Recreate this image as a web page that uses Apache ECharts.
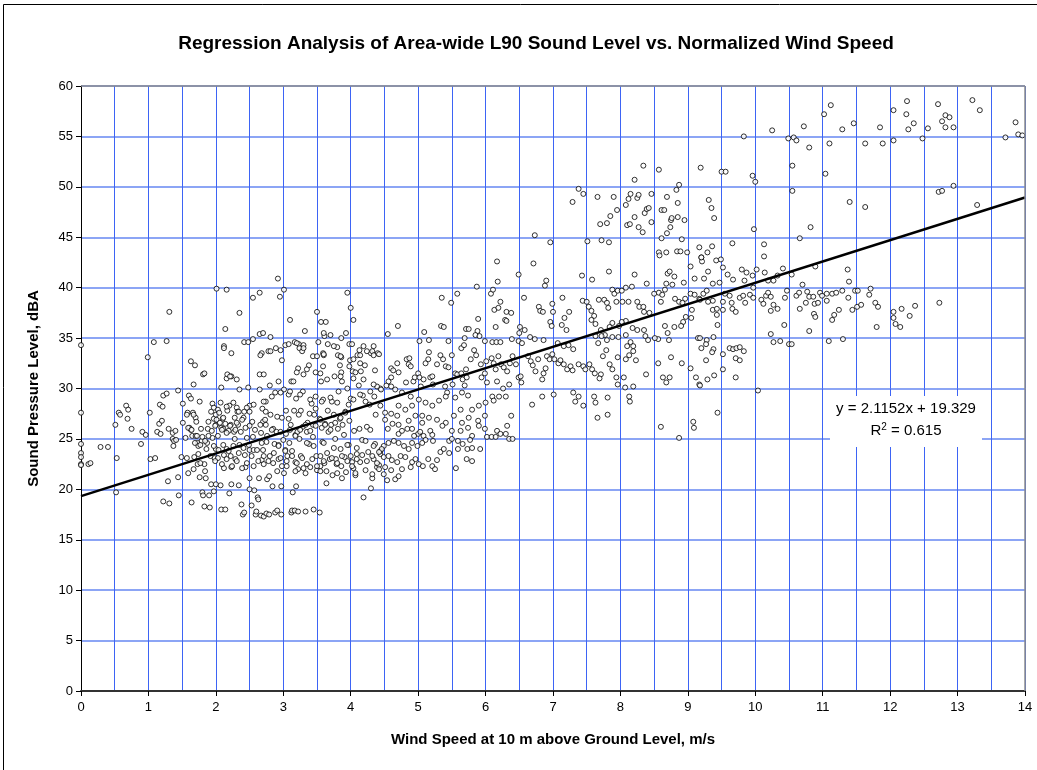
<!DOCTYPE html>
<html>
<head>
<meta charset="utf-8">
<script src="https://cdn.jsdelivr.net/npm/echarts@6/dist/echarts.min.js"></script>
<style>
html,body{margin:0;padding:0;background:#fff;}
#chart{width:1037px;height:770px;}
</style>
</head>
<body>
<div id="chart"></div>
<script>
// ---- data (wind speed m/s, sound level dBA) ----
const obsLowWindUpper = [[0,34.3],[0.99,33.1],[1.08,34.6],[1.27,34.7],[1.31,37.6],[1.63,32.7],[1.69,32.3],[1.81,31.4],[1.83,31.5],[2.01,39.9],[2.16,39.8],[2.14,35.9],[2.12,34.2],[2.12,34.0],[2.23,33.5],[2.35,37.5],[2.42,34.6],[2.48,34.6],[2.55,34.9],[2.55,39.0],[2.65,39.5],[2.65,35.4],[2.70,35.5],[2.81,35.1],[2.92,40.9],[2.95,39.1],[3.01,39.8],[3.10,36.8],[3.32,35.7],[2.68,33.5],[2.78,33.7],[2.89,34.0],[2.96,33.8],[2.98,32.8],[3.03,34.3],[3.08,34.4],[3.17,34.6],[3.23,34.4],[3.24,34.0],[3.28,33.7],[3.30,34.3],[3.22,32.0],[3.30,31.4],[3.20,31.6],[3.38,32.3],[3.44,33.2],[3.48,31.6],[3.50,37.6],[3.56,36.6],[3.63,36.6],[3.52,34.6],[3.59,33.5],[3.60,33.3],[3.59,32.2],[3.61,35.2],[3.60,35.5],[3.70,35.3],[3.66,34.4],[3.76,31.2],[3.80,34.1],[3.86,35.0],[3.81,33.3],[3.86,33.1],[3.84,32.3],[3.86,31.6],[3.93,35.5],[3.95,39.5],[4.00,38.0],[4.04,36.8],[3.98,34.4],[4.02,34.4],[3.99,32.8],[3.98,32.2],[4.03,31.7],[4.07,31.6],[4.10,33.3],[4.14,32.5],[4.13,33.8],[4.19,34.2],[4.21,32.3],[4.15,31.7],[4.30,33.5],[4.34,34.2],[4.32,33.7],[4.40,33.5],[4.36,31.8],[2.16,31.0],[2.17,31.4],[2.23,31.2],[2.65,31.4]];

const obsLowWindLower = [[0,27.6],[0,24.5],[0,23.6],[0,23.2],[0,22.5],[0,22.4],[0.11,22.5],[0.14,22.6],[0.29,24.2],[0.40,24.2],[0.51,26.4],[0.52,19.7],[0.53,23.1],[0.56,27.6],[0.58,27.4],[0.67,28.3],[0.70,27.9],[0.69,27.0],[0.75,26.0],[0.89,24.5],[0.91,25.7],[0.96,25.4],[1.02,27.6],[1.03,23.0],[1.10,23.1],[1.13,25.7],[1.17,28.4],[1.21,28.2],[1.18,25.5],[1.16,26.5],[1.20,26.8],[1.22,29.3],[1.27,29.5],[1.29,20.8],[1.22,18.8],[1.31,18.6],[1.30,26.0],[1.36,25.6],[1.36,25.0],[1.37,24.3],[1.38,24.8],[1.40,25.8],[1.41,24.9],[1.44,29.8],[1.44,21.2],[1.45,19.4],[1.51,28.5],[1.51,26.6],[1.49,23.2],[1.55,25.1],[1.58,27.6],[1.60,29.3],[1.63,29.0],[1.61,26.1],[1.63,25.9],[1.64,18.7],[1.59,21.6],[1.66,27.6],[1.67,30.4],[1.68,23.2],[1.65,25.3],[1.70,27.1],[1.71,26.7],[1.70,25.3],[1.73,24.6],[1.73,22.5],[1.74,24.3],[1.76,28.7],[1.74,23.5],[1.76,21.2],[1.79,24.8],[1.78,26.0],[1.80,25.2],[1.80,19.7],[1.81,19.4],[1.83,18.3],[1.83,22.5],[1.84,21.8],[1.86,24.0],[1.85,21.1],[1.87,24.6],[1.88,26.0],[1.89,26.7],[1.90,19.4],[1.91,18.2],[1.93,27.7],[1.95,28.5],[1.97,28.1],[1.95,25.1],[1.93,20.5],[1.97,19.8],[1.97,27.0],[1.98,23.1],[2.00,20.5],[2.00,24.0],[2.00,27.4],[2.00,26.4],[2.03,27.9],[2.03,25.3],[2.03,23.1],[2.05,27.6],[2.07,28.6],[2.08,30.1],[2.07,20.4],[2.08,26.1],[2.08,18.0],[2.10,27.0],[2.11,26.0],[2.12,23.4],[2.12,22.1],[2.14,18.0],[2.14,26.5],[2.16,24.0],[2.17,27.8],[2.20,28.3],[2.19,25.8],[2.20,19.6],[2.22,26.4],[2.22,23.3],[2.23,22.2],[2.23,20.5],[2.27,25.7],[2.28,27.1],[2.28,25.0],[2.29,23.0],[2.31,28.1],[2.32,27.7],[2.33,26.4],[2.34,20.4],[2.35,29.9],[2.35,24.4],[2.37,25.7],[2.38,18.5],[2.40,17.5],[2.42,17.7],[2.41,27.1],[2.42,27.7],[2.43,23.4],[2.44,22.2],[2.46,25.1],[2.48,30.1],[2.50,28.3],[2.50,27.7],[2.50,26.3],[2.50,23.9],[2.50,21.1],[2.50,20.0],[2.53,18.4],[2.54,26.7],[2.55,25.2],[2.56,23.9],[2.56,22.3],[2.57,19.9],[2.59,17.5],[2.60,17.8],[2.62,19.2],[2.63,19.0],[2.64,21.1],[2.65,29.9],[2.67,25.6],[2.67,17.4],[2.68,22.9],[2.69,28.0],[2.70,26.7],[2.70,23.9],[2.71,22.5],[2.71,17.3],[2.74,28.7],[2.74,27.7],[2.74,26.4],[2.75,24.7],[2.75,17.6],[2.76,21.0],[2.79,21.3],[2.79,17.5],[2.80,30.3],[2.80,23.3],[2.84,20.3],[2.85,26.0],[2.85,22.6],[2.87,24.5],[2.88,29.6],[2.88,17.7],[2.90,25.7],[2.91,21.8],[2.91,17.9],[2.93,24.4],[2.93,23.0],[2.96,25.7],[2.97,20.3],[2.97,17.5],[2.98,27.1],[2.98,22.3],[3.01,29.9],[3.01,21.6],[3.03,23.9],[3.04,27.8],[3.04,25.5],[3.05,22.3],[3.06,23.3],[3.08,29.4],[3.08,27.0],[3.09,24.6],[3.11,26.4],[3.12,30.7],[3.12,17.7],[3.13,23.8],[3.13,17.9],[3.14,19.7],[3.17,17.9],[3.16,27.8],[3.18,25.4],[3.18,22.7],[3.19,20.3],[3.19,29.0],[3.21,25.7],[3.22,17.8],[3.22,22.0],[3.23,27.4],[3.24,25.0],[3.26,23.3],[3.26,27.8],[3.29,29.7],[3.29,26.2],[3.30,22.1],[3.33,17.8],[3.35,25.7],[3.36,26.6],[3.38,24.5],[3.39,27.5],[3.40,22.2],[3.42,28.5],[3.44,26.4],[3.44,25.2],[3.45,18.0],[3.46,27.4],[3.48,28.0],[3.48,29.2],[3.49,23.3],[3.50,21.9],[3.54,17.7],[3.54,27.0],[3.55,22.3],[3.56,30.7],[3.57,26.1],[3.58,24.7],[3.59,28.9],[3.61,22.6],[3.62,26.5],[3.64,21.8],[3.64,20.6],[3.66,27.8],[3.67,25.7],[3.69,23.0],[3.71,26.4],[3.72,28.7],[3.73,21.4],[3.75,27.4],[3.77,25.0],[3.78,23.0],[3.79,22.5],[3.81,26.0],[3.82,29.7],[3.84,27.0],[3.85,24.0],[3.86,22.3],[3.87,21.1],[3.87,30.7],[3.88,26.4],[3.90,25.4],[3.91,23.2],[3.92,27.7],[3.93,21.7],[3.95,30.0],[3.97,24.4],[3.98,26.8],[4.00,29.0],[4.00,23.3],[4.02,22.7],[4.04,22.1],[4.05,25.8],[4.07,21.4],[4.09,23.5],[4.12,30.3],[4.13,26.0],[4.14,22.7],[4.17,24.9],[4.18,29.3],[4.19,19.2],[4.22,21.9],[4.24,26.2],[4.26,23.7],[4.28,28.4],[4.29,25.9],[4.30,20.1],[4.32,21.1],[4.34,23.0],[4.35,29.2],[4.36,24.5],[4.37,27.4],[4.39,22.2],[4.42,22.4],[4.44,30.0],[4.44,23.5]];

const obsLowWindDense = [[1.57,27.4],[1.67,27.4],[1.59,26.1],[1.64,25.9],[1.72,25.3],[1.69,24.6],[1.77,24.4],[1.84,24.8],[1.89,25.3],[1.94,25.8],[1.99,26.3],[2.01,26.9],[2.06,26.6],[2.11,27.1],[2.09,25.9],[2.16,25.6],[2.21,26.3],[2.29,25.9],[2.31,26.6],[2.39,26.9],[2.44,26.1],[1.97,24.3],[2.04,23.9],[2.11,24.4],[2.19,23.8],[2.26,24.3],[2.34,23.6],[2.41,24.1],[2.49,24.4],[1.92,23.3],[1.99,22.8],[2.09,22.5],[2.16,23.0],[2.24,22.3],[2.31,22.8],[2.39,22.1],[2.46,22.6],[1.77,22.6],[1.67,22.0],[1.57,23.1],[2.53,23.3],[2.61,23.9],[2.68,24.6],[2.76,25.3],[2.83,25.9],[2.58,25.9],[2.66,26.4],[2.73,26.9],[2.81,27.4],[2.91,27.2],[2.63,22.8],[2.71,23.3],[2.78,22.8],[2.86,23.6],[2.93,24.3],[2.96,23.1],[3.03,23.8],[3.05,22.8],[3.13,23.3],[3.20,22.6],[3.28,23.1],[3.35,22.5],[3.43,23.0],[3.50,22.3],[3.55,23.3],[3.60,22.8],[3.65,23.6],[3.72,23.1],[3.80,22.6],[3.87,23.3],[3.95,22.8],[4.02,22.3],[4.09,23.0],[4.17,23.4],[4.24,22.8],[4.32,23.3],[4.39,22.6],[4.44,23.8],[3.18,21.8],[3.33,21.6],[3.55,21.8],[3.80,21.6],[4.07,21.6],[4.32,21.5],[3.10,25.9],[3.18,25.3],[3.25,25.9],[3.33,26.4],[3.40,25.8],[3.48,26.3],[3.55,26.9],[3.62,26.4],[3.70,25.9],[3.77,26.6],[3.85,27.1],[3.92,27.6],[3.97,28.4],[4.04,28.9],[4.14,29.4],[4.22,28.7],[4.29,29.7],[4.39,30.2],[3.00,24.9],[3.35,24.6],[3.45,24.3],[3.60,24.6],[3.75,24.1],[3.95,24.4],[4.09,24.1],[4.22,24.8],[4.34,24.3],[2.16,28.2],[2.26,28.6],[2.34,27.7],[2.46,28.1],[2.56,28.4],[2.71,28.7],[2.83,29.2],[2.96,29.6],[3.10,29.7],[3.25,29.4],[3.40,28.9],[3.57,28.7],[3.70,29.1],[3.80,28.6],[2.66,33.3],[2.81,33.7],[3.20,34.5],[3.30,34.0],[3.50,33.2],[3.60,33.4],[3.75,34.2],[3.85,33.2],[4.04,32.9],[4.14,33.3],[4.24,33.7],[4.34,33.3],[2.21,31.2],[2.31,30.9],[2.71,31.4],[2.93,30.7],[3.15,30.7],[3.35,31.9],[3.55,31.5],[3.65,30.9],[3.85,31.2],[4.04,31.0],[4.19,30.9],[4.34,30.4]];

const obsMidWindUpper = [[6.17,42.6],[6.71,42.4],[6.49,41.3],[5.87,40.1],[6.88,40.2],[6.90,40.7],[7.43,41.2],[7.58,40.8],[7.83,41.6],[8.21,41.3],[8.39,40.4],[8.70,41.4],[8.73,41.6],[8.68,40.4],[8.77,40.3],[8.80,41.1],[8.94,40.5],[9.04,42.1],[9.10,40.9],[9.20,43.0],[9.21,42.6],[9.24,40.9],[9.30,41.6],[9.42,42.7],[9.37,40.4],
[6.73,45.2],[6.96,44.5],[7.29,48.5],[7.38,49.8],[7.45,49.3],[7.51,44.6],[7.66,49.0],[7.72,44.7],[7.70,46.3],[7.80,46.4],[7.83,44.5],[7.85,47.1],[7.90,49.0],[7.95,47.7],[8.08,48.2],[8.12,48.8],[8.15,49.3],[8.25,48.9],[8.27,49.2],[8.21,50.7],[8.34,52.1],[8.10,46.2],[8.14,46.3],[8.21,47.0],[8.27,46.0],[8.33,45.5],[8.36,47.4],[8.39,47.8],[8.42,47.9],[8.46,49.3],[8.46,46.5],[8.57,51.7],[8.61,47.7],[8.65,47.7],[8.69,49.0],[8.75,46.7],[8.76,46.9],[8.74,46.0],[8.69,45.4],[8.61,44.9],[8.57,43.5],[8.58,43.2],[8.68,43.5],[8.84,43.6],[8.89,43.6],[8.91,44.8],[8.99,43.5],[8.83,49.7],[8.87,50.2],[8.85,48.4],[8.85,47.0],[8.95,46.7],[9.19,51.9],[9.31,48.7],[9.35,47.9],[9.39,46.9],[9.17,44.0],[9.29,43.5],[9.36,44.1],[9.20,43.0]];

const obsMidWindCore = [[4.55,35.4],[4.70,36.2],[5.02,34.7],[5.09,35.6],[5.16,34.8],[5.35,39.0],[5.49,38.5],[5.58,39.4],[5.34,36.2],[5.38,36.1],[5.45,34.7],[5.64,34.0],[5.68,34.3],[5.69,35.0],[5.71,35.9],[5.75,35.9],[5.89,36.9],[5.88,35.7],[5.85,35.3],[5.91,35.2],[5.99,34.7],[6.10,34.6],[6.16,34.6],[6.22,34.6],[6.08,39.4],[6.11,39.8],[6.18,40.6],[6.22,38.6],[6.13,37.8],[6.19,38.0],[6.15,36.1],[6.29,36.8],[6.31,37.6],[6.38,37.5],[6.31,36.7],[6.51,36.1],[6.50,35.5],[6.57,39.0],[6.58,35.8],[6.39,34.9],[6.49,34.7],[6.54,34.5],[6.79,38.1],[6.81,37.7],[6.85,37.6],[6.99,38.4],[7.00,37.6],[6.96,36.6],[6.98,36.2],[7.14,39.0],[7.24,37.6],[7.17,37.0],[7.13,36.3],[7.20,35.8],[6.73,34.9],[6.66,35.1],[6.86,34.8],[7.07,34.5],[7.16,34.2],[7.23,34.3],[7.30,33.9],[7.44,38.7],[7.50,38.6],[7.53,38.1],[7.57,37.7],[7.61,37.2],[7.57,36.8],[7.63,36.4],[7.68,38.8],[7.76,38.8],[7.80,38.5],[7.82,38.0],[7.88,39.8],[7.91,39.4],[7.96,39.7],[8.02,39.7],[8.08,40.0],[8.17,40.1],[8.12,38.6],[7.94,38.6],[8.03,38.6],[8.25,38.6],[8.28,38.1],[8.35,37.6],[8.43,37.5],[8.34,38.1],[8.50,39.4],[8.57,39.5],[8.62,39.3],[8.66,39.8],[8.60,38.6],[8.81,38.9],[8.87,38.6],[8.92,38.5],[8.96,38.9],[9.04,39.4],[9.10,39.3],[9.17,38.9],[8.97,37.1],[9.05,37.0],[8.93,36.6],[9.06,37.8],[8.90,36.2],[8.80,36.1],[8.66,36.2],[8.70,35.5],[8.72,34.8],[8.56,34.9],[8.51,35.0],[8.37,35.2],[8.41,34.8],[8.35,35.8],[8.25,35.8],[8.18,36.0],[8.08,36.7],[8.02,36.6],[7.98,36.2],[7.88,36.5],[7.84,36.1],[7.77,35.3],[7.72,35.2],[7.71,35.8],[7.63,35.2],[7.67,34.5],[7.80,34.8],[7.88,35.1],[7.97,35.1],[8.08,35.3],[8.15,34.6],[8.19,34.2],[8.10,34.2],[9.15,35.0],
[4.42,33.4],[4.45,29.9],[4.53,30.3],[4.60,32.0],[4.63,31.8],[4.60,31.1],[4.60,30.2],[4.71,31.6],[4.69,32.5],[4.83,32.9],[4.86,32.4],[4.87,33.0],[4.89,32.2],[4.82,30.6],[4.93,30.7],[4.95,31.1],[5.00,31.5],[5.02,31.1],[5.04,30.2],[5.08,30.9],[5.11,32.5],[5.15,32.9],[5.16,33.6],[5.18,31.1],[5.21,31.2],[5.22,30.4],[5.28,32.4],[5.33,33.3],[5.37,32.9],[5.41,32.2],[5.45,32.1],[5.40,30.2],[5.43,29.6],[5.50,33.3],[5.55,31.5],[5.58,31.4],[5.51,30.4],[5.64,31.5],[5.66,30.9],[5.71,31.9],[5.72,31.1],[5.69,30.3],[5.74,29.3],[5.78,32.9],[5.83,33.8],[5.86,33.3],[5.93,32.4],[5.94,31.1],[5.99,31.5],[6.01,32.7],[6.02,30.6],[6.09,33.0],[6.12,32.5],[6.15,31.9],[6.17,30.7],[6.19,33.2],[6.23,32.4],[6.27,32.1],[6.32,31.7],[6.36,32.5],[6.40,33.2],[6.45,32.4],[6.26,30.0],[6.30,29.2],[6.35,30.4],[6.49,31.1],[6.52,31.2],[6.53,30.6],[6.63,33.2],[6.67,32.7],[6.70,32.3],[6.74,31.7],[6.78,32.9],[6.84,30.9],[6.86,31.5],[6.89,32.0],[6.91,33.2],[6.95,32.9],[6.99,33.4],[7.02,32.9],[7.08,32.5],[7.11,32.8],[7.16,32.4],[7.21,31.9],[7.26,32.2],[7.29,31.8],[7.38,32.4],[7.45,32.2],[7.48,31.9],[7.54,32.4],[7.58,31.9],[7.62,31.5],[7.71,31.4],[7.69,31.0],[7.74,33.2],[7.79,33.8],[7.84,32.4],[7.88,31.9],[7.94,31.1],[7.96,33.1],[8.05,31.1],[8.08,32.9],[8.13,33.3],[8.19,33.7],[8.23,32.8],[8.38,31.4],[8.56,32.5],[8.63,31.1],[8.73,31.1],[8.68,30.6],[8.75,33.1],[8.91,32.5],[9.04,32.0],[9.12,31.1],[9.17,30.4],
[6.84,29.2],[6.69,28.4],[7.01,29.4],[7.30,29.6],[7.38,29.2],[7.33,28.7],[7.45,28.3],[7.61,29.2],[7.63,28.6],[7.81,29.1],[7.66,27.1],[7.81,27.4],[7.96,30.4],[8.07,30.1],[8.13,29.2],[8.14,28.7],[8.19,30.2],[8.60,26.2],[8.87,25.1],[9.08,26.7],[9.09,26.1]];

const obsMidWindLower = [[4.44,28.3],[4.51,27.6],[4.60,27.5],[4.69,27.3],[4.62,26.5],[4.55,26.0],[4.71,25.5],[4.76,25.8],[4.84,26.0],[4.91,26.0],[5.00,25.5],[4.94,25.3],[5.03,25.7],[5.08,25.3],[5.06,27.3],[5.18,25.8],[5.21,25.4],[5.22,24.8],[5.11,24.9],[5.06,24.6],[4.99,24.3],[4.91,24.6],[4.86,24.0],[4.79,24.3],[4.71,24.6],[4.64,24.8],[4.56,24.6],[4.49,24.3],[4.46,24.0],[4.42,23.7],[4.49,23.2],[4.56,23.3],[4.61,22.9],[4.69,22.7],[4.74,23.3],[4.81,23.2],[4.91,22.7],[4.96,23.0],[5.01,22.5],[5.07,22.3],[5.15,23.0],[5.21,22.3],[5.25,22.0],[5.28,22.9],[5.33,23.7],[5.38,24.0],[5.46,24.8],[5.50,25.0],[5.59,24.8],[5.63,25.8],[5.74,26.1],[5.80,25.3],[5.89,26.8],[5.99,27.3],[5.99,26.0],[6.02,25.2],[6.09,25.2],[6.15,25.2],[6.17,25.8],[6.22,25.5],[6.30,25.5],[6.35,25.0],[6.40,25.0],[6.32,26.3],[6.38,27.3],[6.10,29.2],[5.59,24.0],[5.66,24.5],[5.73,24.0],[5.80,24.1],[5.92,24.0],[5.77,24.9],[5.72,23.0],[5.80,22.8],[5.56,22.1],[5.46,23.6],[4.42,22.0],[4.51,22.2],[4.49,21.5],[4.54,20.9],[4.66,21.0],[4.71,21.3],[4.76,22.0],[4.89,22.2],[4.60,21.9]];

const obsMidWindDense = [[4.56,30.7],[4.66,29.9],[4.76,29.6],[4.89,29.2],[5.01,28.9],[5.11,28.6],[5.21,28.3],[5.31,28.8],[5.41,29.2],[5.55,29.1],[5.65,29.6],[4.91,28.3],[4.81,27.9],[4.71,28.3],[4.96,27.3],[5.16,27.1],[5.28,26.9],[5.41,26.6],[5.53,27.3],[5.63,27.9],[5.80,27.9],[5.90,28.3],[6.00,28.6],[6.12,28.8],[6.20,29.2],[5.65,26.6],[5.75,27.1],[5.90,26.3],[5.50,25.8],[5.36,26.3],[5.06,26.6],[4.86,26.8],[4.71,26.4],[4.51,26.9]];

const obsHighWindUpper = [[9.50,51.5],[9.56,51.5],[9.83,55.0],[9.96,51.1],[10.00,50.5],[10.25,55.6],[10.49,54.8],[10.57,54.9],[10.61,54.6],[10.55,52.1],[10.55,49.6],[10.72,56.0],[10.80,53.9],[11.02,57.2],[11.12,58.1],[11.10,54.3],[11.04,51.3],[11.29,55.7],[11.46,56.3],[11.63,54.3],[11.85,55.9],[11.89,54.3],[12.05,57.6],[12.05,54.6],[12.24,57.2],[12.25,58.5],[12.27,55.7],[12.35,56.3],[12.48,54.8],[12.56,55.8],[12.71,58.2],[12.77,56.5],[12.82,57.1],[12.88,56.9],[12.82,55.9],[12.94,55.9],[12.72,49.5],[12.77,49.6],[12.94,50.1],[13.22,58.6],[13.33,57.6],[13.29,48.2],[13.71,54.9],[13.86,56.4],[13.90,55.2],[13.96,55.1],
[11.40,48.5],[11.63,48.0],[10.82,46.0],[10.66,44.9],[9.66,44.4],[10.13,44.3],[10.13,43.1],[9.49,42.8],[9.52,42.0],[9.47,40.5],[9.59,41.3],[9.67,40.8],[9.80,41.8],[9.87,41.5],[9.84,40.7],[9.96,41.2],[10.02,41.8],[9.97,40.0],[10.14,41.5],[10.19,40.7],[10.27,40.7],[10.33,41.2],[10.41,41.9],[10.54,41.3],[10.89,42.1],[11.37,41.8],[11.39,40.6],[10.70,40.3],[9.98,45.8]];

const obsHighWindLower = [[9.23,39.4],[9.28,39.7],[9.18,38.8],[9.30,38.6],[9.37,38.7],[9.37,37.8],[9.43,37.9],[9.43,37.3],[9.44,36.3],[9.52,37.8],[9.52,38.6],[9.55,39.4],[9.62,39.2],[9.65,38.5],[9.66,37.9],[9.71,37.6],[9.77,39.0],[9.85,38.5],[9.82,39.2],[9.92,39.3],[9.97,39.0],[10.09,38.8],[10.12,38.4],[10.16,39.2],[10.19,39.5],[10.23,39.1],[10.23,37.7],[10.27,38.3],[10.33,37.9],[10.44,39.0],[10.47,39.7],[10.61,39.2],[10.65,39.5],[10.66,37.9],[10.75,38.5],[10.77,39.6],[10.80,39.1],[10.86,39.1],[10.88,38.4],[10.87,37.4],[10.89,37.1],[10.93,38.5],[10.96,39.5],[10.99,39.2],[11.06,39.4],[11.06,38.7],[11.14,39.4],[11.20,39.5],[11.29,39.7],[11.38,39.0],[11.24,37.8],[11.17,37.3],[11.14,36.8],[11.44,37.8],[11.48,39.7],[11.52,39.7],[11.51,38.1],[11.57,38.3],[11.69,39.3],[11.71,39.9],[11.78,38.5],[11.82,38.1],[11.80,36.1],[12.05,37.6],[12.05,37.0],[12.08,36.4],[12.15,36.1],[12.17,37.9],[12.29,37.2],[12.37,38.2],[12.73,38.5],[11.09,34.7],[11.30,34.9],[10.23,35.4],[10.27,34.6],[10.37,34.7],[10.43,36.3],[10.50,34.4],[10.54,34.4],[10.80,35.7],[10.04,29.8],[9.44,27.6],
[9.18,35.0],[9.28,34.8],[9.27,34.4],[9.20,34.0],[9.38,35.1],[9.38,33.9],[9.36,33.6],[9.27,32.8],[9.52,33.4],[9.62,34.0],[9.67,33.9],[9.72,34.0],[9.77,34.1],[9.83,33.7],[9.71,33.0],[9.77,32.8],[9.52,31.9],[9.29,30.9],[9.39,31.3],[9.18,30.3],[9.71,31.1]];

// regression line end points (x = 0 and x = 14)
const trendWind = [0, 14];
const trendLevel = [19.33, 48.94];

const titleText = 'Regression Analysis of Area-wide L90 Sound Level vs. Normalized Wind Speed';
const xTitle = 'Wind Speed at 10 m above Ground Level, m/s';
const yTitle = 'Sound Pressure Level, dBA';
const eqLine1 = 'y = 2.1152x + 19.329';
const eqR2 = '0.615';

const FONT = '"Liberation Sans", Arial, sans-serif';
const allObs = [].concat(obsLowWindUpper, obsLowWindLower, obsLowWindDense, obsMidWindUpper, obsMidWindCore, obsMidWindLower, obsMidWindDense, obsHighWindUpper, obsHighWindLower);
const trendData = trendWind.map((x, i) => [x, trendLevel[i]]);

const chart = echarts.init(document.getElementById('chart'), null, {renderer: 'canvas'});
const PL = 81, PT = 86, PR = 1025, PB = 691;
chart.setOption({
  animation: false,
  backgroundColor: '#ffffff',
  title: {
    text: titleText, left: 531, textAlign: 'center', top: 29,
    textStyle: {fontFamily: FONT, fontSize: 19, fontWeight: 'bold', color: '#000'}
  },
  grid: {left: PL, top: PT, right: 1037 - PR, bottom: 770 - PB, show: false},
  xAxis: {
    type: 'value', min: 0, max: 14, interval: 1,
    name: xTitle, nameLocation: 'middle', nameGap: 41,
    nameTextStyle: {fontFamily: FONT, fontSize: 15, fontWeight: 'bold', color: '#000'},
    axisLine: {show: true, onZero: false, lineStyle: {color: '#333', width: 2}},
    axisTick: {show: true, inside: false, length: 5, lineStyle: {color: '#000', width: 1}},
    axisLabel: {fontFamily: FONT, fontSize: 13, color: '#000', margin: 10},
    splitLine: {show: true, lineStyle: {color: '#3d64f5', width: 1}},
    minorTick: {show: false, splitNumber: 2},
    minorSplitLine: {show: true, lineStyle: {color: '#3d64f5', width: 1}}
  },
  yAxis: {
    type: 'value', min: 0, max: 60, interval: 5,
    name: yTitle, nameLocation: 'middle', nameGap: 40, nameRotate: 90,
    nameTextStyle: {fontFamily: FONT, fontSize: 15, fontWeight: 'bold', color: '#000'},
    axisLine: {show: true, onZero: false, lineStyle: {color: '#000', width: 1}},
    axisTick: {show: true, inside: false, length: 5, lineStyle: {color: '#000', width: 1}},
    axisLabel: {fontFamily: FONT, fontSize: 13, color: '#000', margin: 8},
    splitLine: {show: true, lineStyle: {color: '#8ca5f5', width: 2}}
  },
  series: [
    {
      type: 'scatter', data: allObs, symbol: 'circle', symbolSize: 5,
      itemStyle: {color: '#ffffff', borderColor: '#000000', borderWidth: 1},
      z: 3, silent: true
    },
    {
      type: 'line', data: trendData, symbol: 'none', silent: true,
      lineStyle: {color: '#000000', width: 2.5}, z: 4
    }
  ],
  graphic: [
    {type: 'rect', z: 0, silent: true, shape: {x: 3.5, y: 4.5, width: 1200, height: 1000},
     style: {fill: 'none', stroke: '#000', lineWidth: 1}},
    {type: 'line', z: 10, silent: true, shape: {x1: PL, y1: PT, x2: PR, y2: PT}, style: {stroke: '#8c8c8c', lineWidth: 1.5}},
    {type: 'line', z: 10, silent: true, shape: {x1: PR, y1: PT, x2: PR, y2: PB}, style: {stroke: '#8c8c8c', lineWidth: 1.5}},
    {type: 'rect', z: 10, silent: true, shape: {x: 830, y: 396, width: 152, height: 51}, style: {fill: '#ffffff'}},
    {type: 'text', z: 11, silent: true, x: 906, y: 409,
     style: {text: eqLine1, font: '15px ' + FONT, fill: '#000', align: 'center', verticalAlign: 'middle'}},
    {type: 'text', z: 11, silent: true, x: 906, y: 431,
     style: {text: '{a|R}{s|2}{a| = ' + eqR2 + '}', align: 'center', verticalAlign: 'middle',
       rich: {a: {fontFamily: FONT, fontSize: 15, fill: '#000', color: '#000'},
              s: {fontFamily: FONT, fontSize: 10, fill: '#000', color: '#000', verticalAlign: 'top', padding: [0, 0, 8, 0]}}}}
  ]
});
</script>
</body>
</html>
